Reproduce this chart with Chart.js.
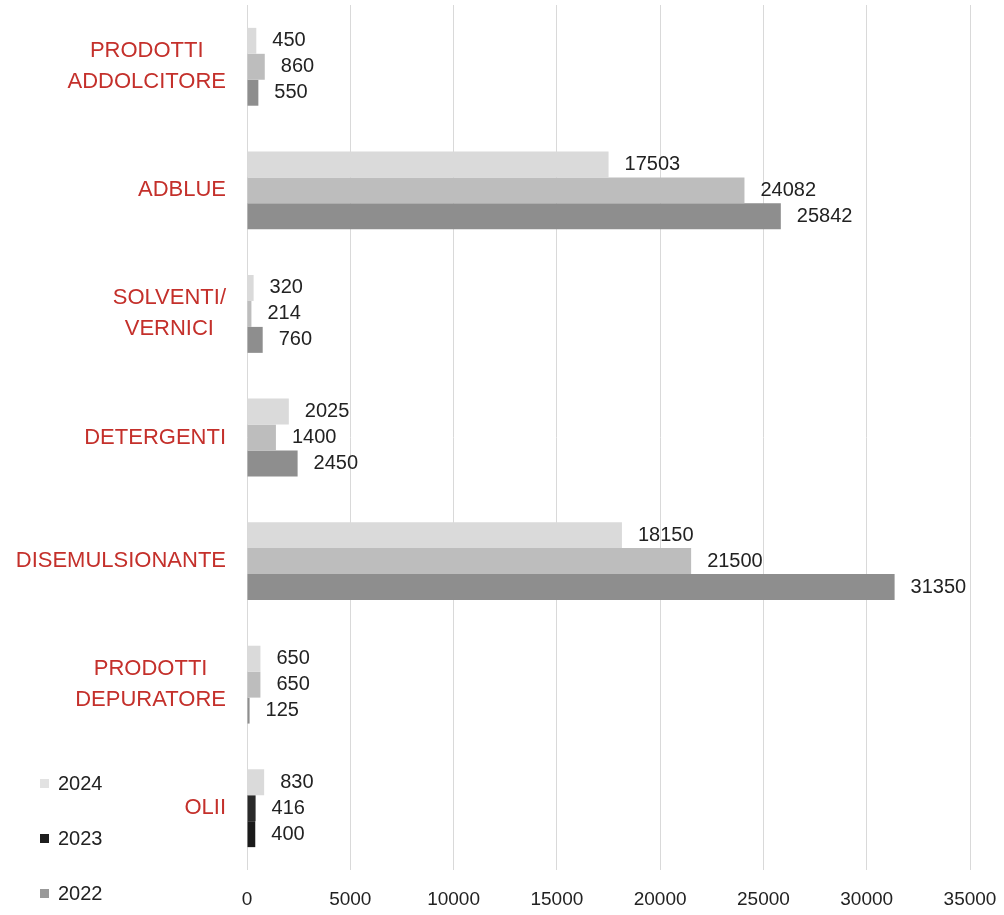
<!DOCTYPE html>
<html>
<head>
<meta charset="utf-8">
<script src="https://cdn.jsdelivr.net/npm/chart.js"></script>
<style>
  body { margin: 0; background: #fff; font-family: "Liberation Sans", Arial, sans-serif; }
  #wrap { position: relative; width: 1004px; height: 915px; }
  #legend { position: absolute; left: 40px; top: 0; }
  .item { position: absolute; left: 0; white-space: nowrap; font-size: 20px; color: #222; line-height: 24px; }
  .item span.box { display: inline-block; width: 9px; height: 9px; margin-right: 9px; vertical-align: 2px; }
</style>
</head>
<body>
<div id="wrap">
  <canvas id="chart" width="1004" height="915"></canvas>
  <div id="legend"></div>
</div>
<script>
  const categories = [['PRODOTTI', 'ADDOLCITORE'], 'ADBLUE', ['SOLVENTI/', 'VERNICI'], 'DETERGENTI', 'DISEMULSIONANTE', ['PRODOTTI', 'DEPURATORE'], 'OLII'];
  const seriesNames = ['2024', '2023', '2022'];
  const values2024 = [450, 17503, 320, 2025, 18150, 650, 830];
  const values2023 = [860, 24082, 214, 1400, 21500, 650, 416];
  const values2022 = [550, 25842, 760, 2450, 31350, 125, 400];
  const xMax = 35000;
  const xStep = 5000;

  // scan makes the OLII bars of 2023/2022 look black
  const colors2024 = ['#dadada', '#dadada', '#dadada', '#dadada', '#dadada', '#dadada', '#dadada'];
  const colors2023 = ['#bdbdbd', '#bdbdbd', '#bdbdbd', '#bdbdbd', '#bdbdbd', '#bdbdbd', '#2a2a2a'];
  const colors2022 = ['#8e8e8e', '#8e8e8e', '#8e8e8e', '#8e8e8e', '#8e8e8e', '#8e8e8e', '#1a1a1a'];
  const legendColors = ['#e2e2e2', '#1e1e1e', '#999999'];
  const legendTops = [771, 826, 881];

  const labelPlugin = {
    id: 'labels',
    afterDraw(chart) {
      const ctx = chart.ctx;
      const y = chart.scales.y;
      ctx.save();
      ctx.fillStyle = '#c4302b';
      ctx.font = '22px "Liberation Sans", Arial, sans-serif';
      ctx.textAlign = 'center';
      ctx.textBaseline = 'middle';
      categories.forEach((c, i) => {
        const lines = Array.isArray(c) ? c : [c];
        const cy = y.getPixelForValue(i);
        const w = Math.max(...lines.map(l => ctx.measureText(l).width));
        const cx = 226 - w / 2;
        lines.forEach((l, j) => ctx.fillText(l, cx, cy + (j - (lines.length - 1) / 2) * 31));
      });
      ctx.fillStyle = '#222';
      ctx.font = '20px "Liberation Sans", Arial, sans-serif';
      ctx.textAlign = 'left';
      chart.data.datasets.forEach((ds, di) => {
        chart.getDatasetMeta(di).data.forEach((el, i) => {
          ctx.fillText(String(ds.data[i]), el.x + 16, el.y);
        });
      });
      ctx.restore();
    }
  };

  new Chart(document.getElementById('chart'), {
    type: 'bar',
    data: {
      labels: categories.map(c => Array.isArray(c) ? c.join(' ') : c),
      datasets: [
        { label: seriesNames[0], data: values2024, backgroundColor: colors2024 },
        { label: seriesNames[1], data: values2023, backgroundColor: colors2023 },
        { label: seriesNames[2], data: values2022, backgroundColor: colors2022 }
      ]
    },
    options: {
      indexAxis: 'y',
      responsive: false,
      animation: false,
      categoryPercentage: 0.63,
      barPercentage: 1,
      layout: { padding: { top: 5, right: 34, bottom: 0, left: 0 } },
      plugins: { legend: { display: false }, tooltip: { enabled: false } },
      scales: {
        x: {
          min: 0, max: xMax,
          ticks: { stepSize: xStep, color: '#222', padding: 18, font: { size: 19, family: 'Liberation Sans' },
                   callback: v => String(v) },
          grid: { color: '#d9d9d9', drawTicks: false },
          border: { display: false },
          afterFit: s => { s.height = 45; s.paddingLeft = 0; s.paddingRight = 0; }
        },
        y: {
          ticks: { display: false },
          grid: { display: false },
          border: { display: false },
          afterFit: s => { s.width = 247; }
        }
      }
    },
    plugins: [labelPlugin]
  });

  const legend = document.getElementById('legend');
  seriesNames.forEach((name, i) => {
    const d = document.createElement('div');
    d.className = 'item';
    d.style.top = legendTops[i] + 'px';
    d.innerHTML = '<span class="box" style="background:' + legendColors[i] + '"></span>' + name;
    legend.appendChild(d);
  });
</script>
</body>
</html>
